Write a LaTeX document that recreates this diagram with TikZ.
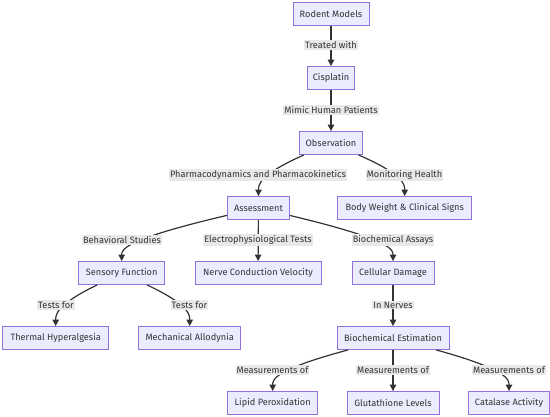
\documentclass[tikz,border=0pt]{standalone}
\usepackage{fontspec}
\setmainfont{Fira Sans}
\usetikzlibrary{arrows.meta,calc}
\definecolor{nodefill}{HTML}{ECECFF}
\definecolor{nodeline}{HTML}{9370DB}
\definecolor{txt}{HTML}{333333}
\definecolor{lblbg}{HTML}{E8E8E8}
\newcommand{\dfs}{\fontsize{9.2}{11}\selectfont}
\begin{document}
\begin{tikzpicture}[x=1pt,y=-1pt,
  box/.style={draw=nodeline, fill=nodefill, line width=0.9pt, minimum height=23pt, inner xsep=3pt, inner ysep=0pt, text=txt, font=\dfs},
  lbl/.style={fill=lblbg, inner xsep=1pt, inner ysep=1.2pt, text=txt, font=\dfs},
  edge/.style={draw=txt, line width=1.2pt, -{Triangle[length=6.5pt,width=6.5pt]}}]
\useasboundingbox (0,0) rectangle (550,416);
% nodes
\node[box, minimum width=76pt] (rm) at (331,14) {Rodent Models};
\node[box, minimum width=47pt] (cis) at (331,78) {Cisplatin};
\node[box, minimum width=63pt] (obs) at (331,143) {Observation};
\node[box, minimum width=62pt] (ass) at (258.5,208) {Assessment};
\node[box, minimum width=134pt] (bw) at (404.7,208) {Body Weight \& Clinical Signs};
\node[box, minimum width=86pt] (sf) at (121.7,273) {Sensory Function};
\node[box, minimum width=126pt] (ncv) at (258,273) {Nerve Conduction Velocity};
\node[box, minimum width=82pt] (cd) at (393,273) {Cellular Damage};
\node[box, minimum width=106pt] (th) at (55.7,338) {Thermal Hyperalgesia};
\node[box, minimum width=102pt] (ma) at (189.7,338) {Mechanical Allodynia};
\node[box, minimum width=112pt] (be) at (393,338) {Biochemical Estimation};
\node[box, minimum width=90pt] (lp) at (272.7,403) {Lipid Peroxidation};
\node[box, minimum width=92pt] (gl) at (393,403) {Glutathione Levels};
\node[box, minimum width=81pt] (ca) at (509,403) {Catalase Activity};
% label positions
\coordinate (l1) at (331,45);
\coordinate (l2) at (331,110);
\coordinate (l3) at (258,175);
\coordinate (l4) at (404.5,175);
\coordinate (l5) at (122,240);
\coordinate (l6) at (258,240);
\coordinate (l7) at (393,240);
\coordinate (l8) at (56,305);
\coordinate (l9) at (189.5,305);
\coordinate (l10) at (393,305);
\coordinate (l11) at (272.5,370);
\coordinate (l12) at (393,370);
\coordinate (l13) at (509,370);
% edges
\draw[edge] (rm) -- (cis);
\draw[edge] (cis) -- (obs);
\draw[edge] (obs) .. controls (ass.north |- l3) and ($(ass.north |- l3)+(0,10)$) .. (ass.north);
\draw[edge] (obs) .. controls (bw.north |- l4) and ($(bw.north |- l4)+(0,10)$) .. (bw.north);
\draw[edge] (ass) .. controls (sf.north |- l5) and ($(sf.north |- l5)+(0,10)$) .. (sf.north);
\draw[edge] (ass) -- (ncv);
\draw[edge] (ass) .. controls (cd.north |- l7) and ($(cd.north |- l7)+(0,10)$) .. (cd.north);
\draw[edge] (sf) .. controls (th.north |- l8) and ($(th.north |- l8)+(0,10)$) .. (th.north);
\draw[edge] (sf) .. controls (ma.north |- l9) and ($(ma.north |- l9)+(0,10)$) .. (ma.north);
\draw[edge] (cd) -- (be);
\draw[edge] (be) .. controls (lp.north |- l11) and ($(lp.north |- l11)+(0,10)$) .. (lp.north);
\draw[edge] (be) -- (gl);
\draw[edge] (be) .. controls (ca.north |- l13) and ($(ca.north |- l13)+(0,10)$) .. (ca.north);
% labels
\node[lbl] (t1) at (l1) {Treated with};
\node[lbl] (t2) at (l2) {Mimic Human Patients};
\node[lbl] (t3) at (l3) {Pharmacodynamics and Pharmacokinetics};
\node[lbl] (t4) at (l4) {Monitoring Health};
\node[lbl] (t5) at (l5) {Behavioral Studies};
\node[lbl] (t6) at (l6) {Electrophysiological Tests};
\node[lbl] (t7) at (l7) {Biochemical Assays};
\node[lbl] (t8) at (l8) {Tests for};
\node[lbl] (t9) at (l9) {Tests for};
\node[lbl] (t10) at (l10) {In Nerves};
\node[lbl] (t11) at (l11) {Measurements of};
\node[lbl] (t12) at (l12) {Measurements of};
\node[lbl] (t13) at (l13) {Measurements of};
\end{tikzpicture}
\end{document}
